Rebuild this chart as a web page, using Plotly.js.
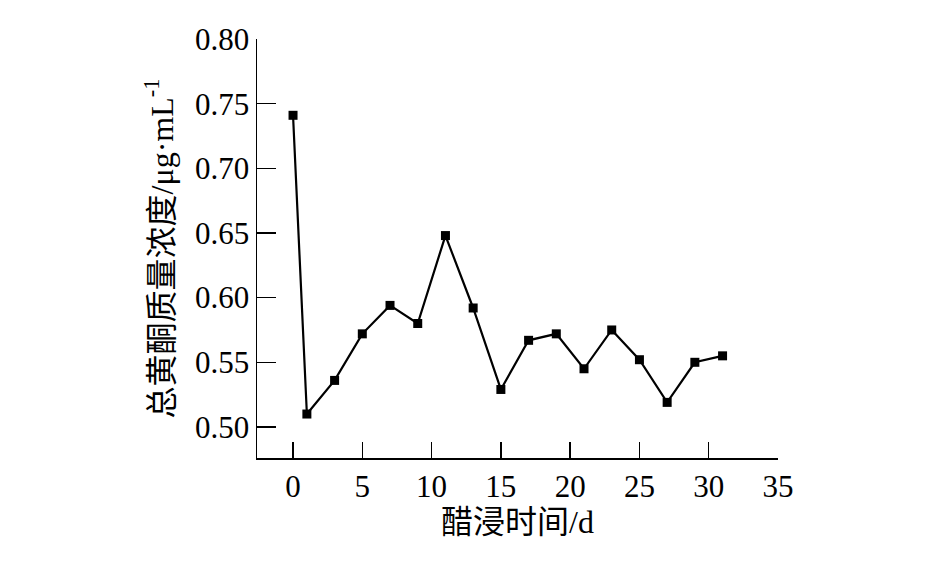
<!DOCTYPE html>
<html>
<head>
<meta charset="utf-8">
<script src="https://cdn.plot.ly/plotly-3.0.1.min.js"></script>
<style>html,body{margin:0;padding:0;background:#fff;}#chart{width:945px;height:567px;}</style>
</head>
<body>
<div id="chart"></div>
<script>
const days = [0, 1, 3, 5, 7, 9, 11, 13, 15, 17, 19, 21, 23, 25, 27, 29, 31];
const concentration = [0.741, 0.510, 0.536, 0.572, 0.594, 0.580, 0.648, 0.592, 0.529, 0.567, 0.572, 0.545, 0.575, 0.552, 0.519, 0.550, 0.555];
const xTicks = [0, 5, 10, 15, 20, 25, 30, 35];
const yTicks = [0.50, 0.55, 0.60, 0.65, 0.70, 0.75, 0.80];
const xTitle = '醋浸时间/d';
const yTitle = '总黄酮质量浓度/μg·mL<sup>-1</sup>';

const fontFam = '"Liberation Serif", "Times New Roman", "Noto Sans CJK SC", serif';

const trace = {
  x: days,
  y: concentration,
  type: 'scatter',
  mode: 'lines+markers',
  line: {color: '#000', width: 2.2},
  marker: {symbol: 'square', size: 9, color: '#000'},
  hoverinfo: 'x+y'
};

const layout = {
  width: 945,
  height: 567,
  margin: {l: 257, r: 167, t: 39, b: 109, pad: 0},
  paper_bgcolor: '#fff',
  plot_bgcolor: '#fff',
  showlegend: false,
  font: {family: fontFam, color: '#000', size: 31},
  xaxis: {
    range: [-2.6, 35],
    tickvals: xTicks,
    ticktext: xTicks.map(String),
    ticks: 'inside',
    ticklen: 16,
    tickwidth: 1.5,
    tickcolor: '#000',
    showline: true,
    linecolor: '#000',
    linewidth: 1.5,
    showgrid: false,
    zeroline: false,
    tickfont: {family: fontFam, size: 31, color: '#000'},
    title: {text: xTitle, font: {family: fontFam, size: 32, color: '#000'}, standoff: 6}
  },
  yaxis: {
    range: [0.476, 0.80],
    tickvals: yTicks,
    ticktext: yTicks.map(v => v.toFixed(2)),
    ticks: 'inside',
    ticklen: 19,
    tickwidth: 1.5,
    tickcolor: '#000',
    showline: true,
    linecolor: '#000',
    linewidth: 1.5,
    showgrid: false,
    zeroline: false,
    tickfont: {family: fontFam, size: 31, color: '#000'},
    title: {text: yTitle, font: {family: fontFam, size: 32, color: '#000'}, standoff: 12}
  }
};

Plotly.newPlot('chart', [trace], layout, {displayModeBar: false, staticPlot: true});
</script>
</body>
</html>
